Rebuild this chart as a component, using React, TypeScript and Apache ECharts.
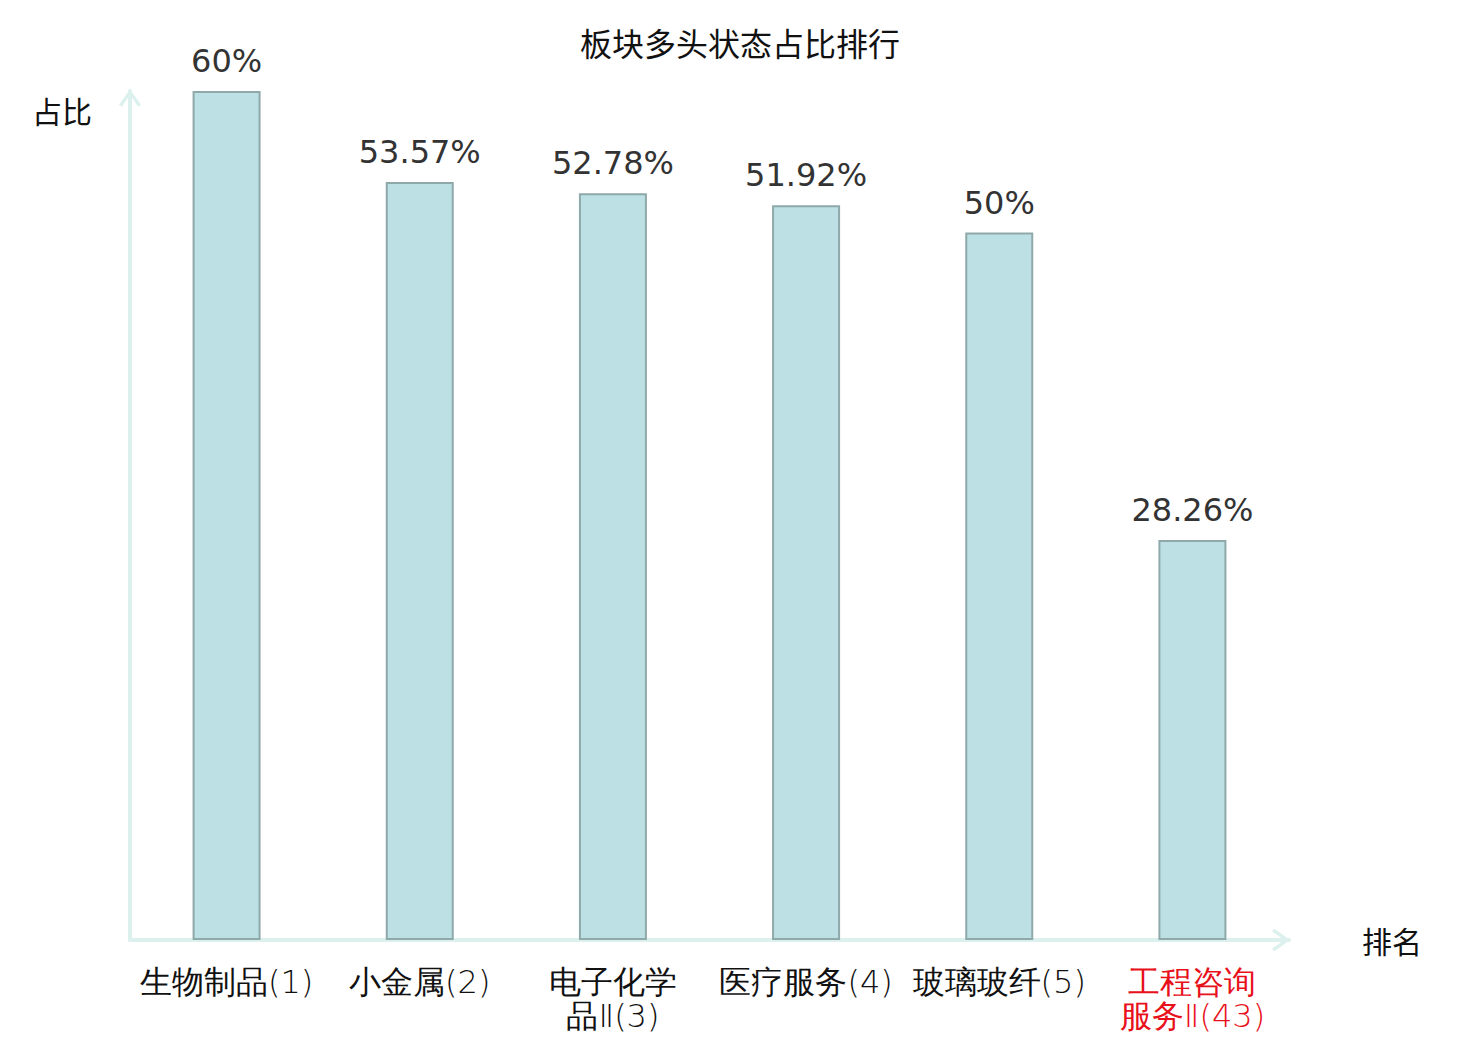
import React, { useEffect, useRef } from "react";
import * as echarts from "echarts";

const chartTitle = "板块多头状态占比排行";
const categories = ["生物制品(1)", "小金属(2)", "电子化学品Ⅱ(3)", "医疗服务(4)", "玻璃玻纤(5)", "工程咨询服务Ⅱ(43)"];
const values = [60, 53.57, 52.78, 51.92, 50, 28.26];
const highlightIndex = [5];
const yName = "占比";
const xName = "排名";

const arrowPath = "path://M10,0 L20,14 L17.4,15.8 L10,5 L2.6,15.8 L0,14 Z";

export default function App() {
  const ref = useRef<HTMLDivElement>(null);
  useEffect(() => {
    document.body.style.margin = "0";
    const chart = echarts.init(ref.current!, null, { renderer: "svg" });
    const axisLineStyle = { color: "#dcf1ee", width: 4 };
    chart.setOption({
      animation: false,
      backgroundColor: "#ffffff",
      title: {
        text: chartTitle,
        left: "center",
        top: 21,
        textStyle: { fontSize: 32, fontWeight: "normal", color: "#111", fontFamily: "Noto Sans CJK SC" },
      },
      grid: { left: 130, right: 191, top: 91, bottom: 100, containLabel: false },
      xAxis: {
        type: "category",
        data: categories,
        name: xName,
        nameLocation: "end",
        nameGap: 73,
        nameTextStyle: { fontSize: 30, color: "#111", fontFamily: "Noto Sans CJK SC" },
        axisLine: {
          show: true,
          lineStyle: axisLineStyle,
          symbol: ["none", arrowPath],
          symbolSize: [23, 18],
          symbolOffset: [0, -8],
        },
        axisTick: { show: false },
        axisLabel: {
          interval: 0,
          margin: 25,
          fontSize: 32,
          lineHeight: 34,
          fontFamily: "DejaVu Sans",
          fontWeight: 200,
          color: (_v: any, i: number) => (highlightIndex.includes(i) ? "#e8101a" : "#111"),
          formatter: (v: string) => (v.length > 7 ? v.slice(0, 4) + "\n" + v.slice(4) : v),
        },
      },
      yAxis: {
        type: "value",
        min: 0,
        max: 60,
        name: yName,
        nameLocation: "end",
        nameGap: -19,
        nameTextStyle: {
          fontSize: 30,
          color: "#111",
          fontFamily: "Noto Sans CJK SC",
          align: "right",
          verticalAlign: "middle",
          padding: [0, 38, 0, 0],
        },
        axisLine: {
          show: true,
          lineStyle: axisLineStyle,
          symbol: ["none", arrowPath],
          symbolSize: [22, 18],
          symbolOffset: [0, -7],
        },
        axisTick: { show: false },
        axisLabel: { show: false },
        splitLine: { show: false },
      },
      series: [
        {
          type: "bar",
          data: values,
          barWidth: 68,
          itemStyle: { color: "#bce0e3", borderColor: "#8fa8aa", borderWidth: 2 },
          label: {
            show: true,
            position: "top",
            distance: 14,
            fontSize: 32,
            color: "#333",
            fontFamily: "DejaVu Sans",
            formatter: (p: any) => p.value + "%",
          },
        },
      ],
    });
    return () => chart.dispose();
  }, []);
  return <div ref={ref} style={{ width: 1480, height: 1040 }} />;
}
